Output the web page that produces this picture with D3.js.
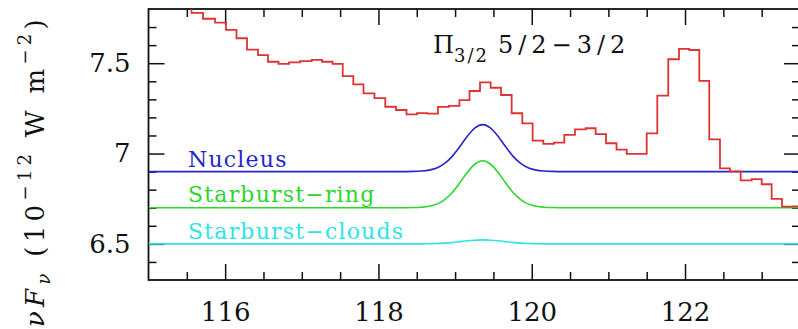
<!DOCTYPE html>
<meta charset="utf-8">
<style>
body { margin: 0; background: #fff; }
svg { display: block; }
text { font-family: "DejaVu Serif", serif; fill: #111; }
.tick line { stroke: #111; stroke-width: 1.5; }
.axis path { display: none; }
.frame { fill: none; stroke: #111; stroke-width: 1.8; }
</style>
<svg id="chart" width="798" height="329"></svg>
<script src="https://cdn.jsdelivr.net/npm/d3@7"></script>
<script>

// observed spectrum: bin edges (micron) and flux per bin (1e-12 W m-2)
var binEdges = [115.45, 115.561, 115.711, 115.868, 116.011, 116.148, 116.285, 116.429, 116.559, 116.696,
  116.833, 116.977, 117.129, 117.264, 117.401, 117.534, 117.672, 117.805, 117.948, 118.089,
  118.229, 118.366, 118.503, 118.637, 118.777, 118.920, 119.057, 119.188, 119.325, 119.464,
  119.599, 119.738, 119.877, 120.012, 120.151, 120.290, 120.425, 120.564, 120.704, 120.834,
  120.969, 121.106, 121.239, 121.369, 121.500, 121.638, 121.781, 121.921, 122.055, 122.186,
  122.316, 122.456, 122.586, 122.726, 122.870, 123.000, 123.130, 123.265, 123.402, 123.55];
var flux = [7.86, 7.779, 7.746, 7.725, 7.685, 7.638, 7.575, 7.545, 7.508, 7.496,
  7.505, 7.512, 7.518, 7.508, 7.496, 7.428, 7.383, 7.333, 7.307, 7.259,
  7.241, 7.217, 7.224, 7.221, 7.258, 7.264, 7.296, 7.346, 7.394, 7.364,
  7.324, 7.223, 7.167, 7.071, 7.053, 7.060, 7.103, 7.134, 7.140, 7.107,
  7.057, 7.022, 6.998, 6.998, 7.112, 7.321, 7.522, 7.579, 7.573, 7.402,
  7.078, 6.918, 6.901, 6.851, 6.858, 6.830, 6.749, 6.706, 6.707];

// model components
var modelX = [115, 118.26, 118.46, 118.56, 118.66, 118.76, 118.86, 118.96, 119.06, 119.16, 119.26, 119.36,
  119.46, 119.56, 119.66, 119.76, 119.86, 119.96, 120.06, 120.16, 120.26, 120.46, 123.5];
var nucleus = [6.9, 6.900, 6.901, 6.903, 6.908, 6.920, 6.944, 6.983, 7.037, 7.096, 7.142, 7.160,
  7.142, 7.096, 7.037, 6.983, 6.944, 6.920, 6.908, 6.903, 6.901, 6.900, 6.9];
var ring = [6.7, 6.700, 6.701, 6.703, 6.708, 6.720, 6.744, 6.783, 6.837, 6.896, 6.942, 6.960,
  6.942, 6.896, 6.837, 6.783, 6.744, 6.720, 6.708, 6.703, 6.701, 6.700, 6.7];
var clouds = [6.5, 6.5, 6.5, 6.500, 6.501, 6.502, 6.504, 6.507, 6.512, 6.517, 6.520, 6.522,
  6.520, 6.517, 6.512, 6.507, 6.504, 6.502, 6.501, 6.500, 6.5, 6.5, 6.5];

var xMajor = [116, 118, 120, 122],
    xMinor = [115.5, 116.5, 117, 117.5, 118.5, 119, 119.5, 120.5, 121, 121.5, 122.5, 123],
    yMajor = [6.5, 7, 7.5],
    yMinor = [6.4, 6.6, 6.7, 6.8, 6.9, 7.1, 7.2, 7.3, 7.4, 7.6, 7.7];

var components = [
  {name: "Nucleus", values: nucleus, color: "#2626c8", label: 166.5},
  {name: "Starburst\u2212ring", values: ring, color: "#2ed62e", label: 202},
  {name: "Starburst\u2212clouds", values: clouds, color: "#2ee4e4", label: 238.5}
];

var svg = d3.select("svg"),
    box = {left: 148.5, right: 800, top: 9, bottom: 280};

var x = d3.scaleLinear().domain([115, 123.5]).range([box.left, box.right]),
    y = d3.scaleLinear().domain([6.3, 7.8]).range([box.bottom, box.top]);

svg.append("defs").append("clipPath").attr("id", "plot")
  .append("rect").attr("x", box.left).attr("y", box.top)
  .attr("width", box.right - box.left).attr("height", box.bottom - box.top);

// ticks, all pointing inward
function ax(gen, scale, vals, size, pos, labels, pad) {
  var a = gen(scale).tickValues(vals).tickSize(-size).tickPadding(pad || 3);
  if (!labels) a.tickFormat("");
  else a.tickFormat(d3.format(""));
  return svg.append("g").attr("class", "axis").attr("transform", pos).call(a);
}
ax(d3.axisBottom, x, xMajor, 16, "translate(0," + box.bottom + ")", true, 23);
ax(d3.axisBottom, x, xMinor, 8, "translate(0," + box.bottom + ")");
ax(d3.axisTop, x, xMajor, 16, "translate(0," + box.top + ")");
ax(d3.axisTop, x, xMinor, 8, "translate(0," + box.top + ")");
ax(d3.axisLeft, y, yMajor, 16, "translate(" + box.left + ",0)", true, 18);
ax(d3.axisLeft, y, yMinor, 8, "translate(" + box.left + ",0)");
ax(d3.axisRight, y, yMajor, 16, "translate(" + box.right + ",0)");
ax(d3.axisRight, y, yMinor, 8, "translate(" + box.right + ",0)");

svg.selectAll(".axis text")
  .style("font-family", "'DejaVu Serif', serif")
  .style("font-size", "26px")
  .attr("fill", "#111");

svg.append("rect").attr("class", "frame")
  .attr("x", box.left).attr("y", box.top)
  .attr("width", box.right - box.left).attr("height", box.bottom - box.top);

var g = svg.append("g").attr("clip-path", "url(#plot)");

// model lines
var mline = d3.line()
  .x(function(d, i) { return x(modelX[i]); })
  .y(function(d) { return y(d); })
  .curve(d3.curveMonotoneX);

components.forEach(function(c) {
  g.append("path")
    .attr("d", mline(c.values))
    .attr("fill", "none")
    .attr("stroke", c.color)
    .attr("stroke-width", 1.6);
  svg.append("text")
    .attr("x", 188).attr("y", c.label)
    .style("font-size", "22px")
    .style("letter-spacing", "1.2px")
    .style("fill", c.color)
    .text(c.name);
});

// observed histogram
var pts = flux.map(function(v, i) { return [binEdges[i], v]; });
pts.push([binEdges[binEdges.length - 1], flux[flux.length - 1]]);

g.append("path")
  .attr("d", d3.line()
    .x(function(d) { return x(d[0]); })
    .y(function(d) { return y(d[1]); })
    .curve(d3.curveStepAfter)(pts))
  .attr("fill", "none")
  .attr("stroke", "#dd3333")
  .attr("stroke-width", 1.8);

// line label
var title = svg.append("text").attr("x", 433).attr("y", 53).style("font-size", "24px");
title.append("tspan").text("\u03a0");
title.append("tspan").attr("dy", 9).style("font-size", "18px").style("letter-spacing", "2px").text("3/2");
title.append("tspan").attr("dy", -9).attr("dx", 9).style("letter-spacing", "5px").text("5/2\u22123/2");

// y axis title
var yt = svg.append("text")
  .attr("transform", "translate(44,327) rotate(-90)")
  .style("font-size", "26px")
  .style("letter-spacing", "4.3px");
yt.append("tspan").style("font-style", "italic").text("\u03bdF");
yt.append("tspan").attr("dy", 6).style("font-size", "18px").style("font-style", "italic").text("\u03bd");
yt.append("tspan").attr("dy", -6).text(" (10");
yt.append("tspan").attr("dy", -13).style("font-size", "18px").text("\u221212");
yt.append("tspan").attr("dy", 13).text(" W m");
yt.append("tspan").attr("dy", -13).style("font-size", "18px").text("\u22122");
yt.append("tspan").attr("dy", 13).text(")");

</script>
